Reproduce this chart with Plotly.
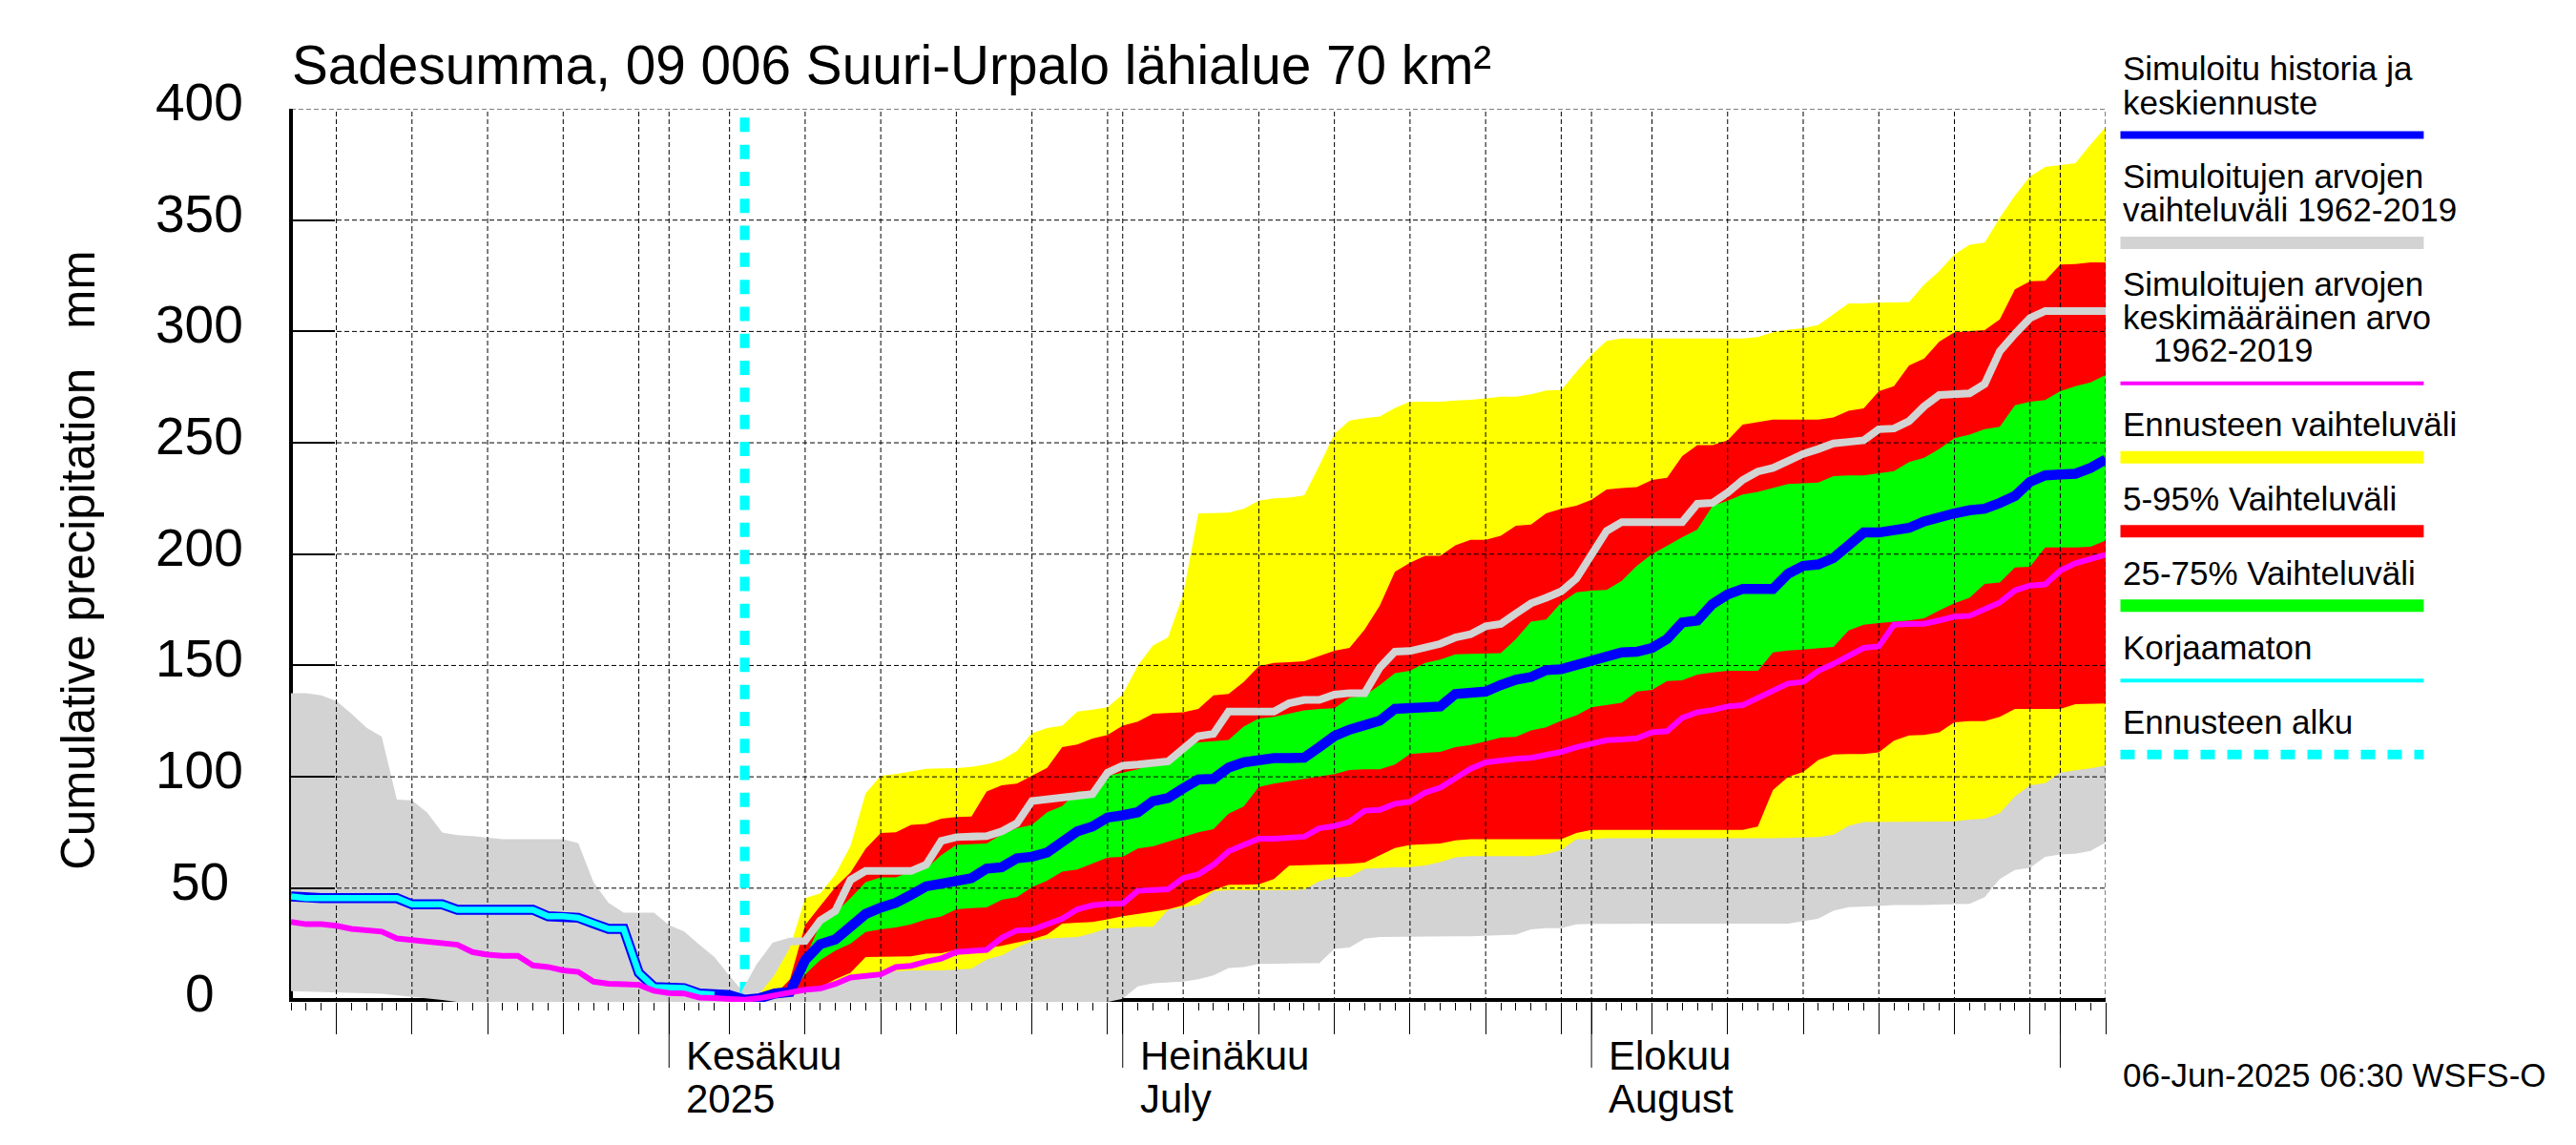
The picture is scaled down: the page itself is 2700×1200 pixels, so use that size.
import pandas as pd
import plotly.graph_objects as go

# one value per day, series end on the last day of the chart (4 Sep)
days = pd.date_range("2025-05-07", "2025-09-04").strftime("%Y-%m-%d").tolist()

# Simulated range 1962-2019, hidden under the forecast bands from day 34 on
gray_upper_days = list(range(0, 34)) + [40, 55, 70, 86, 100, 120]
gray_upper = [137.6, 137.6, 136.6, 134, 128.3, 122, 118, 89.8, 89.5, 84,
              75, 73.8, 73.4, 72.7, 72, 72, 72, 72, 72, 70.2,
              52.7, 43.4, 39, 39, 39, 33.4, 30.5, 24.6, 19.1, 10.6,
              2.7, 13, 22.5, 25, 60, 100, 150, 200, 230, 260]
gray_lower_days = list(range(0, 12)) + list(range(54, 121))
gray_lower = [3.7, 3.5, 3.3, 3.1, 2.9, 2.8, 2.6, 2.0, 1.3, 0.5, -0.2, -1.1,
              -1.1,
              0.3, 5.9, 7.3, 7.7, 8, 9.1, 10.8, 14.1, 14.6, 16,
              16.3, 16.3, 16.3, 16.3, 22.7, 23.4, 27.3, 28.1, 28.4, 28.4,
              28.4, 28.4, 28.4, 28.4, 28.8, 28.8, 29.1, 31.5, 32, 32,
              33.7, 34, 34.1, 34.1, 34.1, 34.1, 34.1, 34.1, 34.1, 34.1,
              34.1, 34.1, 34.1, 34.1, 34.1, 35.1, 36.3, 39.8, 41.5, 41.8,
              42, 42.4, 42.4, 42.4, 42.4, 42.7, 43, 46, 54.1, 58.2,
              59.1, 64.1, 65.1, 65.5, 66.7, 70.5]

# Forecast range, from day 30
yellow_upper = [0.3, 2.7, 11.3, 23.4, 45.5, 47.7, 56.2, 69, 92.6, 100.5,
                101.2, 102.4, 103.6, 103.8, 103.9, 104.5, 105.6, 107.6, 111.6, 119.5,
                121.9, 123, 129.3, 130.2, 131.2, 137, 150, 159, 162.6, 181.9,
                218.3, 218.4, 218.6, 220.4, 224, 225.1, 225.4, 226.4, 239.7, 254,
                260, 261.1, 261.8, 265.7, 268.5, 268.5, 268.5, 269, 269.3, 270,
                270.7, 270.7, 271.8, 273.5, 273.7, 281.8, 289.6, 295.8, 296.8, 296.8,
                296.8, 296.8, 296.8, 296.8, 296.8, 296.8, 296.8, 297.5, 299.6, 300.8,
                301.5, 302.9, 307.8, 312.6, 312.6, 313, 313, 313.2, 321, 327.2,
                334.6, 338.9, 339.9, 351, 361, 369.6, 373.9, 374.6, 375.6, 383.9,
                391.7]
yellow_lower = [0.3, 0.3, 0.5, 1.5, 3.4, 3.9, 6.3, 9.1, 10.6, 11,
                12.7, 13.1, 13.1, 13.1, 13.4, 13.8, 18, 19.8, 23.4, 26.3,
                27.3, 27.7, 28.1, 29.8, 32, 32, 32.7, 32.7, 40.3, 41.3,
                42.7, 48.7, 49.1, 49.1, 49.1, 49.1, 49.1, 49.4, 53.1, 54.8,
                55.1, 58.7, 59.1, 59.4, 59.5, 60.2, 61.7, 63.8, 64.4, 64.4,
                64.4, 64.4, 64.4, 65.2, 67.2, 72, 72, 72.4, 72.4, 72.4,
                72.4, 72.4, 72.4, 72.4, 72.4, 72.4, 72.4, 72.4, 72.4, 72.4,
                72.7, 73, 74, 78, 79.7, 80, 80, 80, 80, 80,
                80, 80.8, 81.2, 83.7, 91.2, 96.2, 97.2, 101.9, 102.9, 103.8,
                105.1]

# 5-95 %, from day 31
red_upper = [0.3, 2, 9.1, 33.4, 42, 50.5, 57, 67.7, 74.8,
             75.1, 78.4, 78.8, 81.2, 81.9, 82.2, 93.4, 96.2, 96.9, 100.5,
             104, 113.3, 114.5, 117.2, 118.8, 123, 124.8, 128.3, 128.6, 129,
             130.5, 136.6, 137.2, 142.6, 149.7, 151.2, 151.5, 151.9, 154.3, 156.6,
             157.9, 166.2, 176.9, 192.1, 196.1, 199.3, 199.3, 204, 206.4, 206.4,
             208.3, 212.8, 213.3, 218.3, 220.4, 221.8, 224.4, 229, 229.7, 230.1,
             233.3, 234.3, 244, 249, 249, 251.1, 258.2, 259.2, 260.4, 260.4,
             260.4, 260.4, 261.4, 264.4, 265.4, 273.2, 275.4, 284.7, 287.8, 295.4,
             299.6, 300.1, 300.6, 305.4, 318.9, 322.5, 322.8, 330, 330.3, 331,
             331]
red_lower = [0.3, 0.5, 1.5, 4.9, 5.6, 9.1, 12, 19.1, 19.4,
             19.4, 19.4, 20.6, 20.8, 22.3, 22.7, 23.1, 24.1, 25.6, 27,
             29.1, 34.1, 34.5, 34.8, 36, 37.4, 38.4, 39.4, 40.5, 42.3,
             46.3, 49.1, 51.5, 51.5, 51.7, 54.1, 60.1, 60.5, 60.8, 60.8,
             61, 61.5, 64.8, 68, 69.4, 69.7, 70.1, 71.5, 72, 72,
             72, 72, 72, 72, 72, 74.8, 76.2, 76.2, 76.2, 76.2,
             76.2, 76.2, 76.2, 76.2, 76.2, 76.2, 76.2, 77.7, 94.1, 100,
             102.2, 107.6, 110, 110.2, 110.2, 111, 116.2, 118.6, 118.8, 120,
             124.5, 125, 125, 126.9, 130.5, 130.5, 130.5, 130.5, 132.6, 132.9,
             132.9]

# 25-75 %, from day 32
green_upper = [2, 3.4, 18.4, 34, 39, 45.5, 52.7, 54.8,
               54.8, 57.4, 58.8, 64.8, 69.4, 69.8, 70.1, 74.1, 76.9, 78.4,
               84.1, 86.9, 93.4, 93.4, 100.5, 101.9, 103.4, 106.2, 108.3, 113.3,
               115.5, 116, 116.5, 122.6, 126.2, 126.9, 128.3, 129.8, 130.5, 130.8,
               135.5, 136.5, 141.2, 146.5, 147.6, 151.2, 152.6, 155, 155.2, 155.2,
               155.5, 161.9, 169.7, 170.7, 178.3, 182.9, 183.6, 183.9, 188, 194.7,
               200, 203.7, 207.6, 211, 221.6, 224, 226.8, 228, 229.7, 231.5,
               231.8, 232.1, 235, 235.4, 235.4, 236.4, 237.3, 241.4, 243.3, 247.2,
               252.1, 253.7, 256.1, 257.2, 266.8, 268.5, 269.2, 273.2, 275.4, 277.1,
               280.4]
green_lower = [0.5, 2, 11.3, 17.7, 22, 25.1, 30.3, 31.5,
               32.3, 33.7, 36, 37.3, 40.5, 41, 41.3, 44.8, 46, 50.5,
               53.4, 57.4, 58.4, 61.2, 63.7, 64.1, 67.8, 68.8, 71.2, 73,
               75.1, 76.5, 83.4, 86.7, 95.5, 96.9, 97.9, 99.1, 100.2, 101.2,
               103.1, 103.4, 103.4, 105.5, 110.2, 110.8, 111.2, 113.3, 114.3, 115.9,
               117.6, 117.9, 120.8, 122.2, 125.2, 127.6, 131.2, 132.3, 133.3, 138.3,
               139, 143, 143.3, 145.9, 146.9, 147.6, 147.6, 147.6, 155.9, 156.7,
               157.2, 157.6, 158.3, 165.7, 168.3, 169, 169.7, 170.2, 171.2, 174.7,
               177.9, 180.4, 186.6, 187.3, 194, 194.3, 203, 203, 203, 203.3,
               206.1]

# Lighter forecast line, from day 30
gray_line = [2.7, 14.8, 24, 26, 26.3, 35.5, 39.8, 53.7, 57.7, 57.7,
             57.7, 57.7, 60.5, 71.2, 72.9, 72.9, 73.4, 75.5, 79.1, 89.1,
             89.8, 90.5, 91.2, 92.2, 101.9, 105, 105.5, 106.2, 106.9, 112.6,
             118.3, 119.3, 129.3, 129.3, 129.3, 129.3, 133, 134.5, 134.5, 136.9,
             137.6, 137.6, 149, 156.2, 156.5, 158.3, 159.7, 162.6, 164, 167.6,
             168.6, 173.3, 177.9, 180.4, 183.3, 189, 199.7, 210.4, 214.4, 214.4,
             214.4, 214.4, 214.4, 222.6, 223, 227.6, 233.3, 237.1, 238.7, 241.8,
             245, 247.2, 249.7, 250.4, 251.1, 256.1, 256.4, 259.7, 266.4, 271.5,
             271.8, 272.2, 276.4, 291.1, 298.9, 306, 309.2, 309.2, 309.2, 309.2,
             309.2]

# Simulated history and mean forecast, all days
blue_line = [46.3, 45.5, 45.5, 45.5, 45.5, 45.5, 45.5, 45.5, 42.7, 42.7,
             42.7, 40.3, 40.3, 40.3, 40.3, 40.3, 40.3, 37.4, 37.4, 36.7,
             34.1, 31.7, 31.7, 12, 5.6, 5.1, 5.1, 2.7, 2.3, 2,
             -0.1, 0.6, 2.7, 3.4, 17.7, 24.8, 27, 32.7, 38.4, 41.3,
             43.4, 47, 50.8, 52, 53.4, 54.5, 58.8, 59.4, 63.4, 64.1,
             66, 70.5, 75.5, 77.7, 81.7, 82.7, 84.1, 89.1, 90.5, 94.8,
             98.8, 99.1, 104.1, 106.5, 107.6, 108.4, 108.4, 108.6, 113.3, 118.3,
             121.2, 123.3, 125.2, 130.5, 130.9, 131.2, 131.6, 137.2, 137.9, 138.3,
             141.2, 143.6, 144.8, 147.9, 148.3, 150, 151.9, 154, 155.9, 156.2,
             157.9, 161.9, 169.3, 170.2, 177.6, 181.9, 184.4, 184.4, 184.4, 191.2,
             194.7, 195.4, 198.3, 204, 209.7, 209.7, 211.1, 211.8, 214.7, 216.8,
             218.3, 219.7, 220.4, 223, 226.1, 232.5, 235.4, 235.8, 236.1, 238.7,
             242.5]

# Uncorrected, history only: days 0-28
cyan_line = [46.3, 45.5, 45.5, 45.5, 45.5, 45.5, 45.5, 45.5, 42.7, 42.7,
             42.7, 40.3, 40.3, 40.3, 40.3, 40.3, 40.3, 37.4, 37.4, 36.7,
             34.1, 31.7, 31.7, 12, 5.6, 5.1, 5.1, 2.7, 2.3]

# Mean of simulated values 1962-2019, all days
magenta_line = [34.8, 33.8, 33.8, 33.1, 31.7, 31.4, 30.5, 27.4, 26.6, 26,
                25.1, 24.6, 21.3, 20.1, 19.6, 19.6, 15.3, 14.6, 13.1, 12.4,
                8, 7.1, 6.9, 6.6, 3.9, 2.9, 2.7, 0.9, 0.6, 0.3,
                -0.1, 0.6, 2, 3.4, 4.4, 4.9, 7, 9.9, 10.8, 11.3,
                14.6, 15.1, 17, 18.4, 21.3, 22, 22.3, 27.7, 31, 31.3,
                34.1, 36.3, 40.5, 42.3, 43, 43.1, 48.8, 49.1, 49.5, 54.5,
                56.2, 60.5, 66.5, 69.4, 72.2, 72.2, 72.9, 73.1, 76.9, 77.9,
                79.8, 84.8, 85.2, 87.9, 88.8, 92.9, 95.1, 99.1, 103.6, 106.5,
                107.6, 108.1, 108.5, 109.8, 111.2, 113.3, 114.8, 116.4, 116.8, 117.3,
                120, 120.5, 126.5, 129, 130, 131.6, 132.2, 135.5, 139.3, 141.9,
                142.6, 147.6, 150.7, 154.5, 157.9, 158.6, 168.3, 168.6, 168.7, 170.2,
                171.9, 172.3, 175.4, 178.3, 183.7, 185.9, 186.4, 192.6, 195.9, 197.6,
                199.7]

forecast_start = "2025-06-06"
y_ticks = [0, 50, 100, 150, 200, 250, 300, 350, 400]
month_starts = ["2025-06-01", "2025-07-01", "2025-08-01", "2025-09-01"]
month_names = ["Kesäkuu", "Heinäkuu", "Elokuu"]
month_sub = ["2025", "July", "August"]
x_grid = ["2025-05-10", "2025-05-15", "2025-05-20", "2025-05-25", "2025-05-30",
          "2025-06-01", "2025-06-05", "2025-06-10", "2025-06-15", "2025-06-20", "2025-06-25", "2025-06-30",
          "2025-07-01", "2025-07-05", "2025-07-10", "2025-07-15", "2025-07-20", "2025-07-25", "2025-07-30",
          "2025-08-01", "2025-08-05", "2025-08-10", "2025-08-15", "2025-08-20", "2025-08-25", "2025-08-30",
          "2025-09-01", "2025-09-04"]

# The page has an 8 px body margin, so the figure is 8 px smaller and all pixels are shifted by it
PAGE = 8
W, H = 2700 - PAGE, 1200 - PAGE
L, R, T, B = 305 - PAGE, 2207.5 - PAGE, 114 - PAGE, 1050.5 - PAGE
Y_BOTTOM = -1.07
FONT = "Liberation Sans"


def px_x(p):
    return (p - PAGE - L) / (R - L)


def px_y(p):
    return (B - (p - PAGE)) / (B - T)


def add_band(fig, name, xu, yu, xl, yl, color):
    fig.add_trace(go.Scatter(x=xu + xl[::-1], y=yu + yl[::-1], fill="toself", fillcolor=color,
                             mode="lines", line=dict(width=0), name=name, hoverinfo="skip"))


def add_line(fig, name, x, values, color, width):
    fig.add_trace(go.Scatter(x=x, y=values, mode="lines", name=name, cliponaxis=False,
                             line=dict(color=color, width=width)))


fig = go.Figure()

add_band(fig, "Simuloitujen arvojen vaihteluväli 1962-2019",
         [days[i] for i in gray_upper_days], gray_upper,
         [days[i] for i in gray_lower_days], gray_lower, "#d3d3d3")
add_band(fig, "Ennusteen vaihteluväli", days[-len(yellow_upper):], yellow_upper,
         days[-len(yellow_lower):], yellow_lower, "#ffff00")
add_band(fig, "5-95% Vaihteluväli", days[-len(red_upper):], red_upper,
         days[-len(red_lower):], red_lower, "#ff0000")
add_band(fig, "25-75% Vaihteluväli", days[-len(green_upper):], green_upper,
         days[-len(green_lower):], green_lower, "#00ff00")

# Grid sits on top of the bands but under the lines, so it is a trace and not axis grid
grid_x, grid_y = [], []
for d in x_grid:
    grid_x += [d, d, None]
    grid_y += [Y_BOTTOM, 400, None]
for v in y_ticks[1:]:
    grid_x += [days[0], days[-1], None]
    grid_y += [v, v, None]
fig.add_trace(go.Scatter(x=grid_x, y=grid_y, mode="lines", name="grid", hoverinfo="skip",
                         line=dict(color="black", width=1, dash="5px,3px")))

fig.add_trace(go.Scatter(x=[forecast_start, forecast_start], y=[396, 3], mode="lines", name="Ennusteen alku",
                         line=dict(color="#00ffff", width=10, dash="15px,13.3px")))
add_line(fig, "gray line", days[-len(gray_line):], gray_line, "#d3d3d3", 8)
add_line(fig, "Simuloitu historia ja keskiennuste", days, blue_line, "#0000ff", 10.5)
add_line(fig, "Korjaamaton", days[:len(cyan_line)], cyan_line, "#00ffff", 6.5)
add_line(fig, "Simuloitujen arvojen keskimääräinen arvo", days, magenta_line, "#ff00ff", 6)

fig.update_layout(
    width=W, height=H, autosize=False,
    margin=dict(l=L, r=W - R, t=T, b=H - B, pad=0),
    paper_bgcolor="white", plot_bgcolor="white",
    showlegend=False,
    font=dict(family=FONT, color="black"),
    title=dict(text="Sadesumma, 09 006 Suuri-Urpalo lähialue 70 km²", font=dict(size=56.7, family=FONT),
               x=(306 - PAGE) / W, xanchor="left", xref="container",
               y=1 - (68 - PAGE) / H, yanchor="middle"),
)
fig.update_xaxes(type="date", range=[days[0], days[-1]], showgrid=False, zeroline=False,
                 showline=False, showticklabels=False,
                 tickmode="array", tickvals=x_grid, ticks="outside", ticklen=33, tickwidth=1, tickcolor="black",
                 minor=dict(tick0=days[0], dtick=86400000, ticks="outside", ticklen=8, tickwidth=1,
                            tickcolor="black", showgrid=False))
fig.update_yaxes(range=[Y_BOTTOM, 400], showgrid=False, showticklabels=False,
                 zeroline=True, zerolinecolor="black", zerolinewidth=4,
                 showline=True, linecolor="black", linewidth=2,
                 tickmode="array", tickvals=y_ticks, ticks="inside", ticklen=46, tickwidth=2, tickcolor="black")

# Left spine continues into the plot area where the gray band does not cover it
fig.add_shape(type="line", layer="below", xref="x", yref="paper", x0=days[0], x1=days[0], y0=0, y1=1,
              line=dict(color="black", width=4))

# Month ticks are longer than the others
for d in month_starts:
    fig.add_shape(type="line", xref="x", yref="paper", x0=d, x1=d, y0=0, y1=px_y(1050.5 + 69),
                  line=dict(color="black", width=1))

for v in y_ticks:
    fig.add_annotation(text=str(v), xref="paper", yref="y", x=px_x(209), y=v, yshift=7,
                       xanchor="center", yanchor="middle", showarrow=False, font=dict(size=55))

fig.add_annotation(text="Cumulative precipitation\u00a0\u00a0\u00a0mm", xref="paper", yref="paper",
                   x=px_x(82), y=px_y(588), textangle=-90, xanchor="center", yanchor="middle",
                   showarrow=False, font=dict(size=49.3))

for d, top, sub in zip(month_starts, month_names, month_sub):
    fig.add_annotation(text=top, xref="x", yref="paper", x=d, xshift=16, y=px_y(1107),
                       xanchor="left", yanchor="middle", showarrow=False, font=dict(size=42))
    fig.add_annotation(text=sub, xref="x", yref="paper", x=d, xshift=16, y=px_y(1152),
                       xanchor="left", yanchor="middle", showarrow=False, font=dict(size=42))

# Legend column
legend_text = [("Simuloitu historia ja", 2224, 71), ("keskiennuste", 2224, 107),
               ("Simuloitujen arvojen", 2224, 185), ("vaihteluväli 1962-2019", 2224, 220),
               ("Simuloitujen arvojen", 2224, 298), ("keskimääräinen arvo", 2224, 333),
               ("1962-2019", 2256, 367), ("Ennusteen vaihteluväli", 2224, 445),
               ("5-95% Vaihteluväli", 2224, 523), ("25-75% Vaihteluväli", 2224, 601),
               ("Korjaamaton", 2224, 679), ("Ennusteen alku", 2224, 757),
               ("06-Jun-2025 06:30 WSFS-O", 2224, 1127)]
for text, px, py in legend_text:
    fig.add_annotation(text=text, xref="paper", yref="paper", x=px_x(px), y=px_y(py),
                       xanchor="left", yanchor="middle", showarrow=False, font=dict(size=35))

legend_swatches = [("#0000ff", 8, 141.6, None), ("#d3d3d3", 13, 254.5, None), ("#ff00ff", 4, 402, None),
                   ("#ffff00", 13, 479.5, None), ("#ff0000", 13, 557, None), ("#00ff00", 13, 635, None),
                   ("#00ffff", 4, 713.5, None), ("#00ffff", 10, 791, "15px,13px")]
for color, width, py, dash in legend_swatches:
    fig.add_shape(type="line", xref="paper", yref="paper", x0=px_x(2223), x1=px_x(2541), y0=px_y(py), y1=px_y(py),
                  line=dict(color=color, width=width, dash=dash))

fig.write_html("out.html")
